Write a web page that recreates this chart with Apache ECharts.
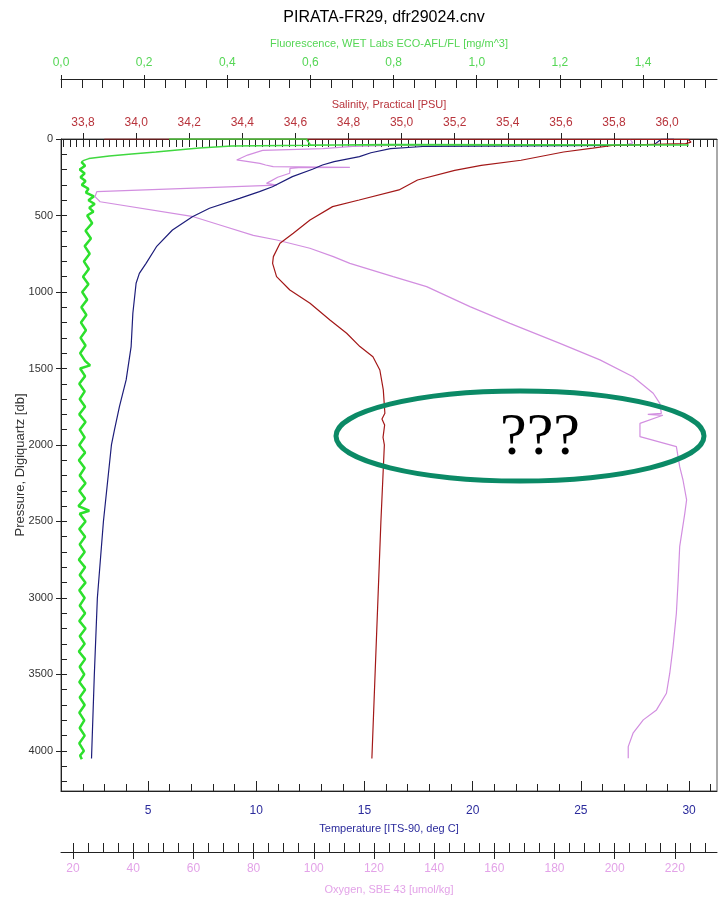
<!DOCTYPE html>
<html><head><meta charset="utf-8">
<script src="https://cdn.jsdelivr.net/npm/echarts@6/dist/echarts.min.js"></script>
<style>html,body{margin:0;padding:0;background:#fff}#c{width:725px;height:899px}</style>
</head><body><div id="c"></div>
<script>
const SANS = "'Liberation Sans',Arial,sans-serif";

// ---- tick labels ----
const fluorTicks = [0, 0.2, 0.4, 0.6, 0.8, 1.0, 1.2, 1.4];
const fluorTickLabels = ['0,0','0,2','0,4','0,6','0,8','1,0','1,2','1,4'];
const salTicks = [33.8, 34.0, 34.2, 34.4, 34.6, 34.8, 35.0, 35.2, 35.4, 35.6, 35.8, 36.0];
const salTickLabels = ['33,8','34,0','34,2','34,4','34,6','34,8','35,0','35,2','35,4','35,6','35,8','36,0'];
const tempTicks = [5, 10, 15, 20, 25, 30];
const tempTickLabels = ['5','10','15','20','25','30'];
const oxyTicks = [20, 40, 60, 80, 100, 120, 140, 160, 180, 200, 220];
const oxyTickLabels = ['20','40','60','80','100','120','140','160','180','200','220'];
const presTicks = [0, 500, 1000, 1500, 2000, 2500, 3000, 3500, 4000];
const presTickLabels = ['0','500','1000','1500','2000','2500','3000','3500','4000'];

// ---- series data (pressure in db, values) ----
const salPres = [0,0,1,1,3,20,30,41,60,85,139,172,205,268,333,399,442,529,616,682,769,813,900,987,1074,1183,1270,1357,1423,1510,1640,1793,1830,1870,1950,2000,2500,3000,3500,4050];
const salVals = [33.88,34.13,34.64,34.96,36.08,36.09,36.07,35.80,35.72,35.61,35.45,35.30,35.20,35.06,34.99,34.84,34.74,34.655,34.592,34.542,34.517,34.514,34.529,34.579,34.655,34.730,34.793,34.843,34.892,34.918,34.931,34.937,34.926,34.936,34.930,34.935,34.922,34.911,34.900,34.888];

const tempPres = [0,3,35,42,46,49,63,90,115,148,170,198,246,312,344,388,453,508,595,704,813,878,943,1139,1357,1575,1750,1902,2000,2500,3000,3500,4050];
const tempVals = [29.3,28.7,28.4,26.5,20.0,17.7,16.2,15.3,14.77,13.6,13.06,12.6,11.67,10.75,10.15,9.23,7.84,7.05,6.13,5.39,4.91,4.60,4.45,4.30,4.22,3.99,3.68,3.45,3.31,2.94,2.66,2.52,2.39];

const oxyPres = [0,25,38,42,48,63,74,105,137,159,170,181,185,188,192,224,250,290,301,344,377,410,508,562,630,660,714,769,813,900,965,1096,1205,1336,1444,1554,1662,1728,1793,1800,1806,1859,1946,2011,2142,2229,2359,2447,2665,2882,3100,3318,3492,3623,3732,3797,3884,3972,4048];
const oxyVals = [205,206,204,125,113,103,83,78,74.4,82.1,84,86.5,112,95,92.1,92,88,84.3,87.7,27.9,27.3,29,60,68.8,79.9,87.7,98.7,106.5,112,126.4,137.5,151.9,165.2,181.8,195.1,206.1,212.8,215,215.5,211,216,208.4,208.4,220.5,221.6,222.7,223.9,223.3,221.6,221.1,220.5,219.4,218.3,217.2,213.9,209.5,206.1,204.5,204.5];

// fluorescence: near-surface part
const fluorTopPres = [0,0,38,40,36,46,59,72,85,98,111,128,140,150];
const fluorTopVals = [0.26,0.59,0.60,1.51,0.79,0.41,0.333,0.28,0.228,0.17,0.116,0.067,0.055,0.049];
// fluorescence: profile below 150 db
const fluorPres = [150,175,200,225,250,275,300,325,350,375,400,425,450,475,500,550,600,650,700,750,800,850,900,950,1000,1050,1100,1150,1200,1250,1300,1350,1400,1450,1480,1500,1550,1600,1650,1700,1750,1800,1850,1900,1950,2000,2050,2100,2150,2200,2250,2300,2350,2400,2430,2450,2500,2550,2600,2650,2700,2750,2800,2850,2900,2950,3000,3050,3100,3150,3200,3250,3300,3350,3400,3450,3500,3550,3600,3650,3700,3750,3800,3850,3900,3950,4000,4030,4055];
const fluorVals = [0.049,0.058,0.045,0.057,0.047,0.059,0.050,0.066,0.060,0.079,0.066,0.081,0.068,0.078,0.063,0.075,0.059,0.072,0.057,0.069,0.055,0.067,0.053,0.066,0.051,0.063,0.049,0.061,0.048,0.060,0.047,0.059,0.046,0.058,0.070,0.046,0.058,0.044,0.057,0.045,0.058,0.044,0.059,0.045,0.057,0.044,0.058,0.043,0.057,0.045,0.059,0.044,0.058,0.042,0.068,0.045,0.059,0.044,0.058,0.045,0.057,0.043,0.058,0.045,0.059,0.044,0.057,0.045,0.058,0.044,0.059,0.045,0.057,0.043,0.058,0.045,0.056,0.044,0.058,0.045,0.057,0.044,0.056,0.045,0.057,0.044,0.055,0.046,0.050];

// ---- helpers ----
function steps(a, b, s) { const out = []; const n = Math.round((b - a) / s); for (let i = 0; i <= n; i++) out.push(+(a + i * s).toFixed(4)); return out; }
function pairs(pres, vals) { return pres.map((p, i) => [vals[i], p]); }
function labelFor(ticks, labels) { return v => { let k = 0, d = 1e9; ticks.forEach((t, i) => { if (Math.abs(t - v) < d) { d = Math.abs(t - v); k = i; } }); return labels[k]; }; }

const AXC = '#222';
function xPair(o) {
  const major = {
    type: 'value', gridIndex: 0, position: o.pos, offset: o.offset, min: o.min, max: o.max,
    name: o.name, nameLocation: 'middle', nameGap: o.nameGap, nameMoveOverlap: false,
    nameTextStyle: { color: o.color, fontFamily: SANS, fontSize: 11 },
    axisLine: { show: true, onZero: false, lineStyle: { color: AXC, width: 1 } },
    axisTick: { show: o.majLen > 0, inside: o.majInside, length: o.majLen, customValues: o.ticks, lineStyle: { color: AXC } },
    axisLabel: { show: true, customValues: o.ticks, formatter: labelFor(o.ticks, o.labels), color: o.color, fontFamily: SANS, fontSize: 12, margin: o.margin },
    splitLine: { show: false }
  };
  const minor = {
    type: 'value', gridIndex: 0, position: o.pos, offset: o.offset, min: o.min, max: o.max,
    axisLine: { show: false, onZero: false },
    axisTick: { show: true, inside: true, length: o.minLen, customValues: o.minors, lineStyle: { color: AXC } },
    axisLabel: { show: false }, splitLine: { show: false }
  };
  return [major, minor];
}

const xAxes = [].concat(
  xPair({ pos: 'top', offset: 60, min: 0, max: 1.578, name: 'Fluorescence, WET Labs ECO-AFL/FL [mg/m^3]', nameGap: 30, color: '#55d655',
          ticks: fluorTicks, labels: fluorTickLabels, minors: steps(0, 1.55, 0.05), majInside: false, majLen: 4, minLen: 9, margin: 10 }),
  xPair({ pos: 'top', offset: 0, min: 33.717, max: 36.188, name: 'Salinity, Practical [PSU]', nameGap: 29, color: '#b8343c',
          ticks: salTicks, labels: salTickLabels, minors: steps(33.725, 36.175, 0.025), majInside: false, majLen: 6, minLen: 8, margin: 10 }),
  xPair({ pos: 'bottom', offset: 0, min: 0.98, max: 31.29, name: 'Temperature [ITS-90, deg C]', nameGap: 32, color: '#2b2b9c',
          ticks: tempTicks, labels: tempTickLabels, minors: steps(1, 31, 1), majInside: true, majLen: 10, minLen: 7, margin: 14 }),
  xPair({ pos: 'bottom', offset: 61, min: 16, max: 234, name: 'Oxygen, SBE 43 [umol/kg]', nameGap: 32, color: '#e3a3e8',
          ticks: oxyTicks, labels: oxyTickLabels, minors: steps(20, 230, 5), majInside: false, majLen: 7, minLen: 9, margin: 11 })
);

const yAxes = [
  { type: 'value', gridIndex: 0, position: 'left', inverse: true, min: 0, max: 4262,
    name: 'Pressure, Digiquartz [db]', nameLocation: 'middle', nameGap: 34, nameRotate: 90, nameMoveOverlap: false,
    nameTextStyle: { color: '#333', fontFamily: SANS, fontSize: 13 },
    axisLine: { show: true, onZero: false, lineStyle: { color: AXC } },
    axisTick: { show: true, inside: false, length: 5, customValues: presTicks, lineStyle: { color: AXC } },
    axisLabel: { customValues: presTicks, formatter: labelFor(presTicks, presTickLabels), color: '#333', fontFamily: SANS, fontSize: 11, margin: 8 },
    splitLine: { show: false } },
  { type: 'value', gridIndex: 0, position: 'left', inverse: true, min: 0, max: 4262,
    axisLine: { show: false, onZero: false },
    axisTick: { show: true, inside: true, length: 6, customValues: steps(0, 4200, 100), lineStyle: { color: AXC } },
    axisLabel: { show: false }, splitLine: { show: false } }
];

function lineSeries(name, xi, data, color, width) {
  return { type: 'line', name, xAxisIndex: xi, yAxisIndex: 0, data, showSymbol: false, symbol: 'none',
           lineStyle: { color, width }, itemStyle: { color }, animation: false, silent: true };
}

const chart = echarts.init(document.getElementById('c'), null, { renderer: 'canvas' });
chart.setOption({
  backgroundColor: '#fff',
  animation: false,
  grid: { left: 61, right: 8, top: 139, bottom: 108, show: true, borderColor: '#555', borderWidth: 1, backgroundColor: 'transparent', containLabel: false, outerBoundsMode: 'none' },
  xAxis: xAxes,
  yAxis: yAxes,
  series: [
    lineSeries('Oxygen', 6, pairs(oxyPres, oxyVals), '#d28ee0', 1.2),
    lineSeries('Temperature', 4, pairs(tempPres, tempVals), '#1d1d7a', 1.2),
    lineSeries('Salinity', 2, pairs(salPres, salVals), '#a31818', 1.2),
    lineSeries('Fluorescence (surface)', 0, pairs(fluorTopPres, fluorTopVals), '#3fd83f', 1.5),
    lineSeries('Fluorescence', 0, pairs(fluorPres, fluorVals), '#2de02d', 2.5)
  ],
  graphic: [
    { type: 'text', x: 384, y: 18, z: 100, style: { text: 'PIRATA-FR29, dfr29024.cnv', fontFamily: SANS, fontSize: 16, fill: '#000', align: 'center', verticalAlign: 'middle' } },
    { type: 'ellipse', z: 100, shape: { cx: 520, cy: 436, rx: 184, ry: 45 }, style: { fill: 'none', stroke: '#0b8a66', lineWidth: 5 } },
    { type: 'text', x: 540, y: 438, z: 100, style: { text: '???', fontFamily: "'Liberation Serif','DejaVu Serif',serif", fontSize: 60, fill: '#000', align: 'center', verticalAlign: 'middle' } }
  ]
});
</script></body></html>
